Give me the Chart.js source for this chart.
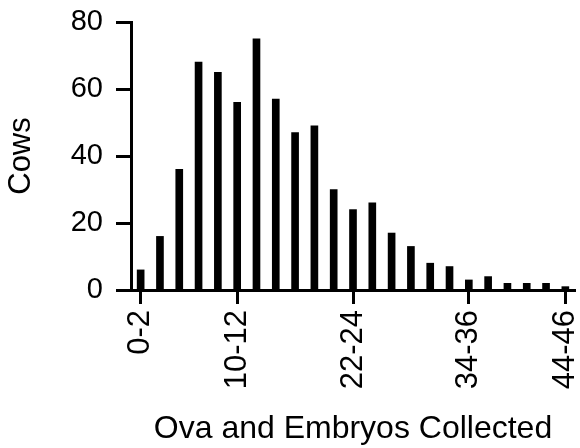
<!DOCTYPE html>
<html>
<head>
<meta charset="utf-8">
<script src="https://cdn.jsdelivr.net/npm/chart.js@4.4.0/dist/chart.umd.min.js"></script>
<style>
  html, body { margin: 0; padding: 0; background: #fff; }
</style>
</head>
<body>
<canvas id="chart" width="580" height="448"></canvas>
<script>
// bins of ova/embryos collected
const categories = [
  "0-2", "2-4", "4-6", "6-8", "8-10", "10-12", "12-14", "14-16",
  "16-18", "18-20", "20-22", "22-24", "24-26", "26-28", "28-30", "30-32",
  "32-34", "34-36", "36-38", "38-40", "40-42", "42-44", "44-46"
];
// number of cows per bin
const cows = [6, 16, 36, 68, 65, 56, 75, 57, 47, 49, 30, 24, 26, 17, 13, 8, 7, 3, 4, 2, 2, 2, 1];
// only these bins get a tick + label
const labeledBins = ["0-2", "10-12", "22-24", "34-36", "44-46"];
const yTicks = [0, 20, 40, 60, 80];

const FONT = "'Liberation Sans', Arial, Helvetica, sans-serif";

const ctx = document.getElementById("chart").getContext("2d");
new Chart(ctx, {
  type: "bar",
  data: {
    labels: categories,
    datasets: [{
      data: cows,
      backgroundColor: "#000",
      borderWidth: 0,
      barThickness: 7
    }]
  },
  options: {
    responsive: false,
    animation: false,
    devicePixelRatio: 1,
    layout: { padding: { top: 22, right: 5, bottom: 0, left: 0 } },
    plugins: {
      legend: { display: false },
      tooltip: { enabled: false }
    },
    scales: {
      x: {
        grid: {
          offset: false,
          drawOnChartArea: false,
          tickLength: 14,
          tickWidth: 3,
          tickColor: c => labeledBins.includes(categories[c.index]) ? "#000" : "rgba(0,0,0,0)"
        },
        border: { display: true, width: 3, color: "#000" },
        ticks: {
          autoSkip: false,
          minRotation: 90,
          maxRotation: 90,
          padding: 6,
          color: "#000",
          font: { family: FONT, size: 31 },
          callback: (v, i) => labeledBins.includes(categories[i]) ? categories[i] : ""
        },
        title: {
          display: true,
          text: "Ova and Embryos Collected",
          color: "#000",
          font: { family: FONT, size: 32 },
          padding: { top: 0, bottom: 0 }
        },
        afterFit: s => {
          s.height = 158;
          s.paddingLeft = 0;
          s.paddingRight = 0;
        }
      },
      y: {
        min: 0,
        max: 80,
        afterBuildTicks: s => { s.ticks = yTicks.map(v => ({ value: v })); },
        grid: {
          drawOnChartArea: false,
          tickLength: 15,
          tickWidth: 3,
          tickColor: "#000"
        },
        border: { display: true, width: 3, color: "#000" },
        ticks: {
          padding: 13,
          color: "#000",
          font: { family: FONT, size: 29 }
        },
        title: {
          display: true,
          text: "Cows",
          color: "#000",
          font: { family: FONT, size: 31 },
          padding: { top: 3, bottom: 0 }
        },
        afterFit: s => {
          s.width = 131;
          s.paddingTop = 0;
          s.paddingBottom = 0;
        }
      }
    }
  }
});
</script>
</body>
</html>
